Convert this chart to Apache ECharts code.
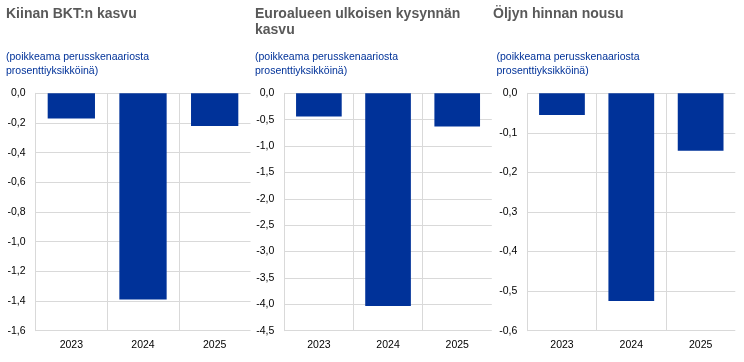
<!DOCTYPE html>
<html>
<head>
<meta charset="utf-8">
<script src="https://cdn.jsdelivr.net/npm/echarts@6/dist/echarts.min.js"></script>
<style>
html,body{margin:0;padding:0;background:#fff;}
#c{width:744px;height:362px;}
</style>
</head>
<body>
<div id="c"></div>
<script>
const categories = ['2023', '2024', '2025'];
const chinaGdp = [-0.17, -1.39, -0.22];
const euroExtDemand = [-0.44, -4.03, -0.63];
const oilPrice = [-0.055, -0.525, -0.145];
const panelTitles = ['Kiinan BKT:n kasvu', 'Euroalueen ulkoisen kysynnän\nkasvu', 'Öljyn hinnan nousu'];
const subTitle = '(poikkeama perusskenaariosta\nprosenttiyksikköinä)';
const yMins = [-1.6, -4.5, -0.6];
const yIntervals = [0.2, 0.5, 0.1];

const FONT = '"Liberation Sans", Arial, sans-serif';
const GRID = '#d9d9d9';
const BAR = '#003299';

const seriesData = [chinaGdp, euroExtDemand, oilPrice];
const grids = [
  {left: 35.5, top: 93.3, width: 215, height: 237.4},
  {left: 284.3, top: 93.3, width: 207.5, height: 237.4},
  {left: 527.3, top: 93.3, width: 208, height: 237.4}
];
const titleLeft = [6, 255, 493];
const subLeft = [6, 255, 496.5];

const fmt = v => (Math.abs(v) < 1e-9 ? 0 : v).toFixed(1).replace('.', ',');

const option = {
  backgroundColor: '#fff',
  animation: false,
  title: [],
  grid: grids,
  xAxis: [],
  yAxis: [],
  series: []
};

for (let i = 0; i < 3; i++) {
  option.title.push({
    text: panelTitles[i], left: titleLeft[i], top: 6, padding: 0,
    textStyle: {fontFamily: FONT, fontSize: 14, fontWeight: 'bold', color: '#595959', lineHeight: 16}
  });
  option.title.push({
    text: subTitle, left: subLeft[i], top: 49.7, padding: 0,
    textStyle: {fontFamily: FONT, fontSize: 10.5, fontWeight: 'normal', color: '#003299', lineHeight: 14}
  });
  option.xAxis.push({
    type: 'category', gridIndex: i, data: categories, position: 'bottom',
    axisLine: {show: false, onZero: false},
    axisTick: {show: false},
    axisLabel: {fontFamily: FONT, fontSize: 10.5, color: '#000', margin: 9},
    splitLine: {show: true, showMaxLine: false, lineStyle: {color: GRID, width: 1}}
  });
  option.yAxis.push({
    type: 'value', gridIndex: i, min: yMins[i], max: 0, interval: yIntervals[i],
    axisLine: {show: true, lineStyle: {color: GRID}},
    axisTick: {show: false},
    axisLabel: {fontFamily: FONT, fontSize: 10.5, color: '#000', margin: 10, formatter: fmt},
    splitLine: {show: true, lineStyle: {color: GRID, width: 1}}
  });
  option.series.push({
    type: 'bar', xAxisIndex: i, yAxisIndex: i, data: seriesData[i],
    barCategoryGap: '34%',
    itemStyle: {color: BAR}
  });
}

const chart = echarts.init(document.getElementById('c'), null, {renderer: 'canvas'});
chart.setOption(option);
</script>
</body>
</html>
